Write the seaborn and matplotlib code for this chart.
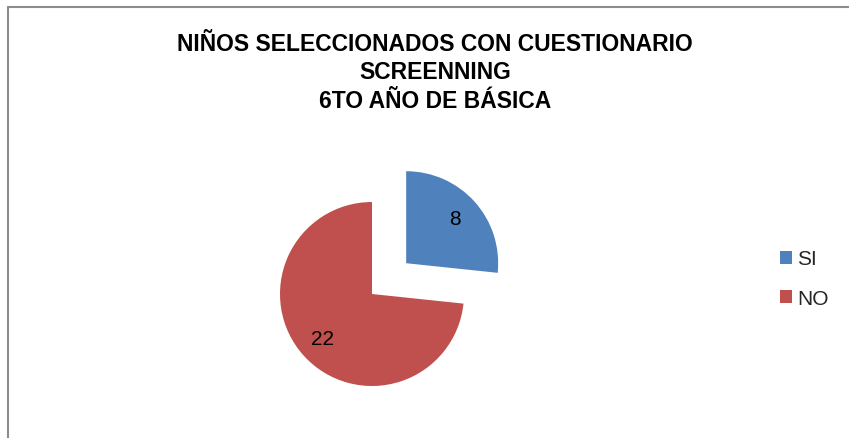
import matplotlib
matplotlib.use("Agg")
import matplotlib.pyplot as plt
from matplotlib.lines import Line2D
import seaborn as sns

# Survey results
categories = ["SI", "NO"]
counts = [8, 22]
title_lines = [
    "NIÑOS SELECCIONADOS CON CUESTIONARIO",
    "SCREENNING",
    "6TO AÑO DE BÁSICA",
]

sns.set_theme(style="white")
plt.rcParams["font.family"] = ["Liberation Sans", "DejaVu Sans"]
palette = sns.color_palette(["#4F81BD", "#C0504D"])

W, H = 849, 439
fig = plt.figure(figsize=(W / 100, H / 100), dpi=100)
fig.patch.set_facecolor("white")

# square axes in pixel units, centred on the pie
cx, cy, half = 372, 295, 150
radius_px = 92
ax = fig.add_axes([(cx - half) / W, (H - cy - half) / H, 2 * half / W, 2 * half / H])

total = sum(counts)
wedges, _, autotexts = ax.pie(
    counts,
    colors=palette,
    startangle=90,
    counterclock=False,
    explode=[0.5, 0.0],
    radius=1.0,
    autopct=lambda p: f"{round(p * total / 100):d}",
    pctdistance=0.72,
    textprops=dict(fontsize=15, color="black"),
    wedgeprops=dict(linewidth=0),
)
for w in wedges:
    w.set_clip_on(False)

lim = half / radius_px
ax.set_xlim(-lim, lim)
ax.set_ylim(-lim, lim)
ax.set_aspect("equal")
ax.axis("off")

# title
fig.text(435 / W, (H - 33) / H, "\n".join(title_lines), ha="center", va="top",
         fontsize=16.5, fontweight="bold", linespacing=1.3, color="black")

# legend
handles = [plt.Rectangle((0, 0), 1, 1, facecolor=c, edgecolor="none") for c in palette]
fig.legend(handles, categories, loc="center left",
           bbox_to_anchor=(780 / W, (H - 279.5) / H),
           frameon=False, fontsize=15, handlelength=0.58, handleheight=0.58,
           handletextpad=0.25, labelspacing=0.97, borderpad=0, borderaxespad=0)

# chart area border (top and left edges)
border = dict(color="#8c8c8c", linewidth=1.5, transform=fig.transFigure)
fig.add_artist(Line2D([8 / W, 1.0], [(H - 8) / H, (H - 8) / H], **border))
fig.add_artist(Line2D([8 / W, 8 / W], [0.0, (H - 8) / H], **border))

fig.savefig("out.png", dpi=100, facecolor="white")
